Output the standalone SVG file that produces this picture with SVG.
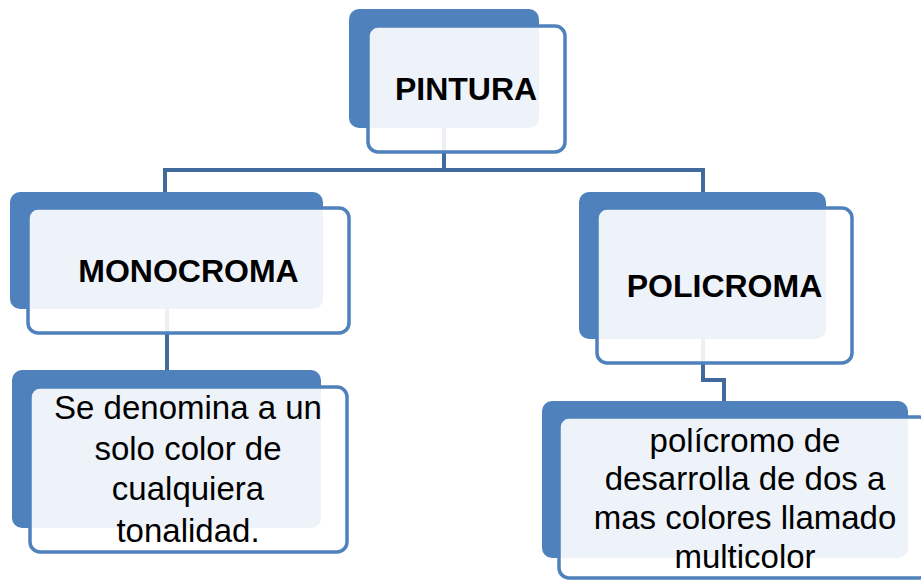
<svg xmlns="http://www.w3.org/2000/svg" width="921" height="583" viewBox="0 0 921 583">
<style>
.back{fill:#4F81BD}
.front{fill:#FFFFFF;fill-opacity:0.9;stroke:#4F81BD;stroke-width:3.5}
.conn{fill:none;stroke:#41699C;stroke-width:4}
.t{font-family:"Liberation Sans",Arial,sans-serif;fill:#000;text-anchor:middle}
.b{font-weight:bold;font-size:32px}
.r{font-size:33px}
</style>
<rect width="921" height="583" fill="#FFFFFF"/>
<g id="connectors">
<path class="conn" d="M444 128 V170 M165 170 H703 M165 168 V192 M703 168 V192"/>
<path class="conn" d="M167 309 V370"/>
<path class="conn" d="M703 339 V380 H724 V401"/>
</g>
<g id="pintura">
<rect class="back" x="349" y="9" width="190" height="119" rx="10"/>
<rect class="front" x="368" y="26" width="197" height="126" rx="10"/>
<text class="t b" x="466" y="100">PINTURA</text>
</g>
<g id="monocroma">
<rect class="back" x="10" y="192" width="313" height="117" rx="10"/>
<rect class="front" x="28" y="208" width="321" height="125" rx="10"/>
<text class="t b" x="188.5" y="282">MONOCROMA</text>
</g>
<g id="policroma">
<rect class="back" x="579" y="192" width="247" height="147" rx="10"/>
<rect class="front" x="597" y="208" width="255" height="155" rx="10"/>
<text class="t b" x="724.5" y="297">POLICROMA</text>
</g>
<g id="mono-desc">
<rect class="back" x="12" y="370" width="309" height="158" rx="10"/>
<rect class="front" x="30" y="387" width="317" height="165" rx="10"/>
<text class="t r" x="188" y="419">Se denomina a un</text>
<text class="t r" x="188" y="460">solo color de</text>
<text class="t r" x="188" y="500">cualquiera</text>
<text class="t r" x="188" y="542">tonalidad.</text>
</g>
<g id="poli-desc">
<rect class="back" x="542" y="401" width="366" height="157" rx="10"/>
<rect class="front" x="559" y="417" width="370" height="161" rx="10"/>
<text class="t r" x="745" y="452">polícromo de</text>
<text class="t r" x="745" y="490">desarrolla de dos a</text>
<text class="t r" x="745" y="529">mas colores llamado</text>
<text class="t r" x="745" y="568">multicolor</text>
</g>
</svg>
